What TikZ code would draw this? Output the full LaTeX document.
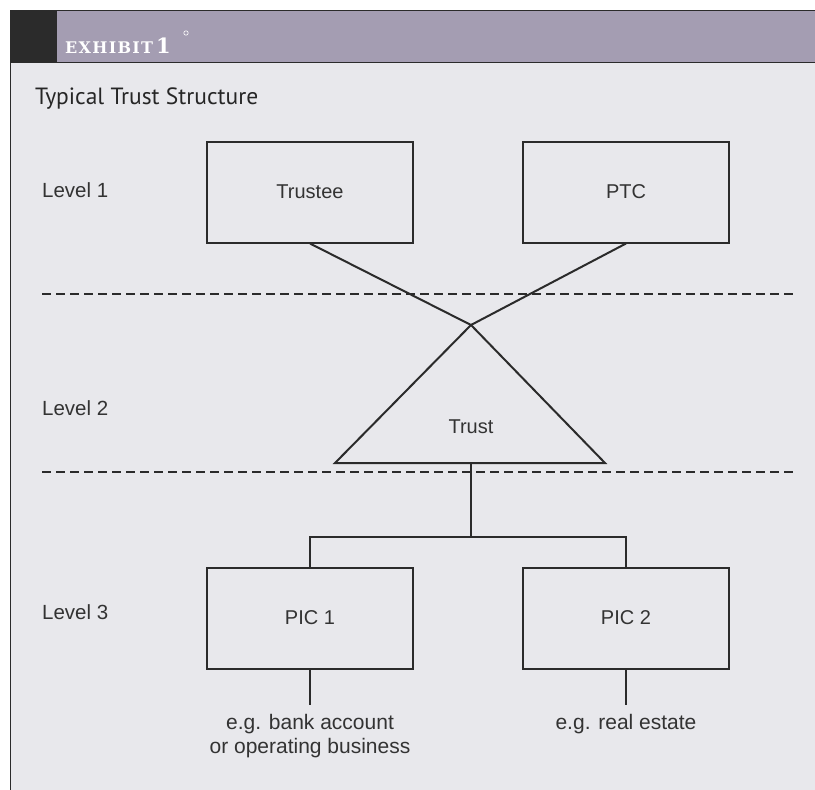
\documentclass[tikz,border=0pt]{standalone}
\usepackage{fontspec}
\setmainfont{Liberation Sans}
\newfontfamily\titlefont{PT Sans}
\newfontfamily\slabfont{DejaVu Serif}[BoldFont={* Bold},LetterSpace=8]
\usetikzlibrary{positioning}

\definecolor{panelgray}{HTML}{E8E8EC}
\definecolor{barpurple}{HTML}{A49DB2}
\definecolor{inkgray}{HTML}{2B2B2B}
\definecolor{labelgray}{HTML}{333333}

\begin{document}
\begin{tikzpicture}[x=1pt,y=-1pt,
    entity/.style={draw=inkgray,line width=2pt,minimum width=206pt,minimum height=101pt,
      inner sep=0pt,font=\fontsize{20}{24}\selectfont,text=labelgray},
    levelname/.style={anchor=west,inner sep=0pt,font=\fontsize{20.5}{24}\selectfont,text=labelgray},
    asset/.style={align=center,anchor=north,inner sep=0pt,text=labelgray,
      font=\fontsize{21}{24}\selectfont},
    link/.style={draw=inkgray,line width=2pt},
    divider/.style={draw=inkgray,line width=2pt,dash pattern=on 9pt off 5pt}]
    \useasboundingbox (0,0) rectangle (815,790);
    % panel and header bar
    \fill[white] (0,0) rectangle (815,790);
    \fill[panelgray] (10,10) rectangle (815,790);
    \fill[barpurple] (57,10) rectangle (815,62);
    \fill[inkgray] (10,10) rectangle (57,62);
    \draw[inkgray,line width=1pt] (10,10) -- (815,10);
    \draw[inkgray,line width=1pt] (10,62) -- (815,62);
    \draw[inkgray,line width=1pt] (10,10) -- (10,790);
    \node[anchor=base west,inner sep=0pt,text=white] (exhibit) at (65,53)
      {\slabfont\bfseries\fontsize{16}{18}\selectfont EXHIBIT\hspace{3pt}\fontsize{21}{22}\selectfont 1};
    \draw[white,line width=0.6pt] (186,33) circle [radius=2.2];
    \node[anchor=base west,inner sep=0pt,text=black!85] (title) at (35,104)
      {\titlefont\fontsize{23.5}{26}\selectfont Typical Trust Structure};

    % level labels and dividers
    \node[levelname] (lvl1) at (42,190) {Level 1};
    \node[levelname] (lvl2) at (42,408) {Level 2};
    \node[levelname] (lvl3) at (42,612) {Level 3};
    \coordinate (d1a) at (42,294);
    \coordinate (d1b) at (795,294);
    \coordinate (d2a) at (42,472);
    \coordinate (d2b) at (795,472);
    \draw[divider] (d1a) -- (d1b);
    \draw[divider] (d2a) -- (d2b);

    % level 1
    \node[entity] (trustee) at (310,192) {Trustee};
    \node[entity] (ptc) at (626,192) {PTC};

    % level 2: the trust
    \coordinate (apex) at (471,325);
    \coordinate (baseL) at (335,463);
    \coordinate (baseR) at (605,463);
    \coordinate (baseM) at (471,463);
    \draw[link,line join=miter] (apex) -- (baseR) -- (baseL) -- cycle;
    \node[text=labelgray,font=\fontsize{20}{24}\selectfont] (trust) at (471,427) {Trust};
    \draw[link] (trustee.south) -- (apex);
    \draw[link] (ptc.south) -- (apex);

    % level 3
    \node[entity] (pic1) at (310,618) {PIC 1};
    \node[entity] (pic2) at (626,618) {PIC 2};
    \coordinate (fork) at (471,537);
    \draw[link] (baseM) -- (fork);
    \draw[link] (pic1.north) |- (fork) -| (pic2.north);

    \node[asset] (asset1) at (310,714) {e.g. bank account\\or operating business};
    \node[asset] (asset2) at (626,714) {e.g. real estate};
    \coordinate (end1) at (310,705);
    \coordinate (end2) at (626,705);
    \draw[link] (pic1.south) -- (end1);
    \draw[link] (pic2.south) -- (end2);
\end{tikzpicture}
\end{document}
